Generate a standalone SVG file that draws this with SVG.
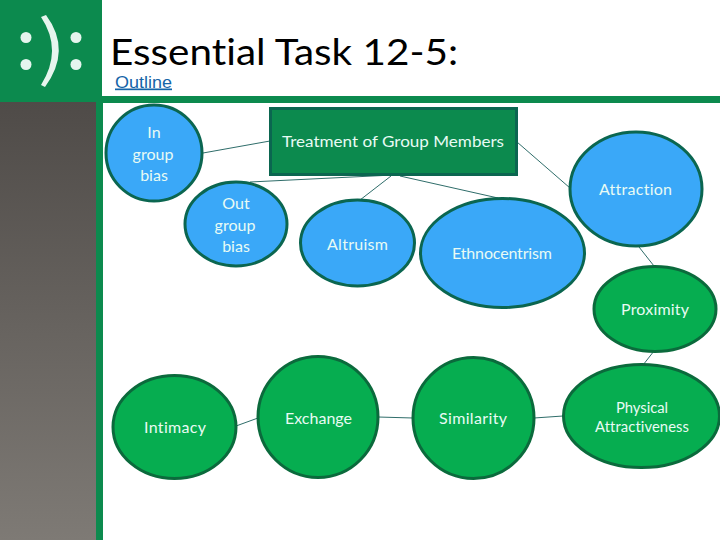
<svg xmlns="http://www.w3.org/2000/svg" width="720" height="540" viewBox="0 0 720 540">
<style>
text{font-variant-ligatures:none}
.t{font-family:Lato,"Noto Sans",sans-serif;fill:#e8fbf4;text-anchor:middle;font-size:16px}
.s{font-size:14.800px}
.b{fill:#3aa8f8;stroke:#0b6650;stroke-width:3}
.g{fill:#06ad50;stroke:#0b6a3c;stroke-width:3}
.c{fill:none;stroke:#2f6d6a;stroke-width:1}
</style>
<defs><linearGradient id="side" x1="0" y1="0" x2="0" y2="1"><stop offset="0" stop-color="#4f4b48"/><stop offset="1" stop-color="#7e7a75"/></linearGradient></defs>
<rect width="720" height="540" fill="#fff"/>
<g id="frame">
<rect x="0" y="102" width="96" height="438" fill="url(#side)"/>
<rect x="96" y="96" width="7" height="444" fill="#0c8a4e"/>
<rect x="102" y="96" width="618" height="7" fill="#0c8a4e"/>
<rect x="0" y="0" width="102" height="102" fill="#0c8a4e"/>
<circle cx="26" cy="37.500" r="5.500" fill="#e6f5ee"/><circle cx="26" cy="64.500" r="5.500" fill="#e6f5ee"/>
<circle cx="76" cy="37.500" r="5.500" fill="#e6f5ee"/><circle cx="76" cy="64.500" r="5.500" fill="#e6f5ee"/>
<path d="M41 17Q63 50 41 85L45 87Q72 50 46 15Z" fill="#e6f5ee"/>
</g>
<text x="110" y="64.500" textLength="348" lengthAdjust="spacingAndGlyphs" style="font-family:Lato,'Noto Sans',sans-serif;font-size:37px;fill:#000">Essential Task 12-5:</text>
<text x="115" y="87.500" textLength="57" lengthAdjust="spacingAndGlyphs" style="font-family:'Liberation Sans',sans-serif;font-size:17px;fill:#1565a8;text-decoration:underline">Outline</text>
<g id="connectors">
<path class="c" d="M203 153L270 141"/>
<path class="c" d="M250 182L393 175"/>
<path class="c" d="M360 200L391 176"/>
<path class="c" d="M400 176L498 198"/>
<path class="c" d="M517 142L570 188"/>
<path class="c" d="M639 247L654 266"/>
<path class="c" d="M654 351L643 365"/>
<path class="c" d="M236 426L258 418"/>
<path class="c" d="M378 417L413 418"/>
<path class="c" d="M534 418L563 416"/>
</g>
<g id="in-group"><ellipse class="b" cx="154" cy="153" rx="48" ry="48"/><text class="t" x="154" y="138">In</text><text class="t" x="153" y="160">group</text><text class="t" x="154" y="181">bias</text></g>
<g id="treatment"><rect x="270.500" y="108.500" width="246" height="66" fill="#0c8a4e" stroke="#0b6650" stroke-width="3"/><text class="t" x="393" y="147" textLength="222" lengthAdjust="spacingAndGlyphs" style="font-size:15.500px">Treatment of Group Members</text></g>
<g id="out-group"><ellipse class="b" cx="236" cy="224" rx="51" ry="42"/><text class="t" x="236" y="209">Out</text><text class="t" x="235" y="231">group</text><text class="t" x="236" y="252">bias</text></g>
<g id="altruism"><ellipse class="b" cx="357.500" cy="243" rx="57" ry="43"/><text class="t" x="357.500" y="250" textLength="61">Altruism</text></g>
<g id="ethnocentrism"><ellipse class="b" cx="502.500" cy="253" rx="82" ry="54.500"/><text class="t" x="502" y="259" textLength="100">Ethnocentrism</text></g>
<g id="attraction"><ellipse class="b" cx="636" cy="189" rx="66" ry="57"/><text class="t" x="635.500" y="195" textLength="73">Attraction</text></g>
<g id="proximity"><ellipse class="g" cx="655" cy="309" rx="61" ry="42.500"/><text class="t" x="655" y="315" textLength="68">Proximity</text></g>
<g id="physical"><ellipse class="g" cx="641.500" cy="416" rx="78" ry="51.500"/><text class="t s" x="642" y="413" textLength="52">Physical</text><text class="t s" x="642" y="432" textLength="94">Attractiveness</text></g>
<g id="similarity"><ellipse class="g" cx="473.500" cy="418" rx="60.500" ry="60.500"/><text class="t" x="473" y="424" textLength="68">Similarity</text></g>
<g id="exchange"><ellipse class="g" cx="318" cy="417" rx="60" ry="60.500"/><text class="t" x="318.500" y="424" textLength="67">Exchange</text></g>
<g id="intimacy"><ellipse class="g" cx="174.500" cy="427" rx="61.500" ry="51.500"/><text class="t" x="175" y="433" textLength="62">Intimacy</text></g>
</svg>
